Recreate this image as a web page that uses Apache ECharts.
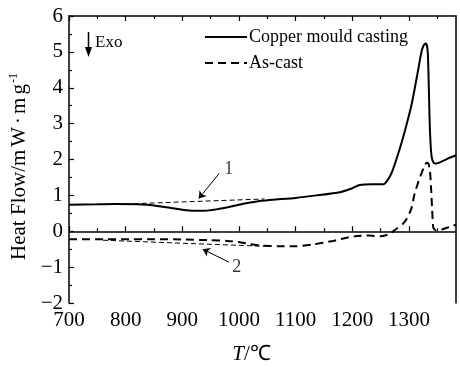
<!DOCTYPE html>
<html>
<head>
<meta charset="utf-8">
<script src="https://cdn.jsdelivr.net/npm/echarts@6/dist/echarts.min.js"></script>
<style>html,body{margin:0;padding:0;background:#fff}#c{width:460px;height:367px}</style>
</head>
<body>
<div id="c"></div>
<script>
var xMajor = [700, 800, 900, 1000, 1100, 1200, 1300];
var xMinor = [750, 850, 950, 1050, 1150, 1250, 1350];
var copperT = [700,750,780,820,850,880,900,920,940,960,980,1000,1020,1040,1060,1100,1137,1178,1200,1213,1235,1255,1262,1269,1281,1293,1305,1315,1322,1325,1328,1330,1332,1333.5,1335,1337,1340,1344,1348,1360,1375,1383];
var copperV = [0.74,0.75,0.76,0.75,0.72,0.65,0.60,0.57,0.57,0.61,0.67,0.74,0.80,0.85,0.88,0.93,1.0,1.09,1.2,1.29,1.31,1.31,1.42,1.61,2.16,2.81,3.56,4.39,5.0,5.15,5.22,5.23,5.15,4.9,4.02,2.81,2.07,1.9,1.89,1.96,2.07,2.12];
var asCastT = [700,750,800,850,900,950,980,1000,1020,1040,1070,1100,1130,1166,1190,1208,1230,1249,1265,1278,1290,1296,1304,1310,1316,1322,1327,1331,1334,1337,1339,1341,1343,1348,1358,1375,1383];
var asCastV = [-0.22,-0.22,-0.22,-0.22,-0.23,-0.25,-0.27,-0.3,-0.36,-0.4,-0.42,-0.42,-0.37,-0.27,-0.18,-0.13,-0.12,-0.14,-0.08,0.07,0.22,0.35,0.62,1.05,1.35,1.61,1.8,1.91,1.9,1.7,1.2,0.58,0.1,0.02,0.05,0.14,0.18];
var base1T = [800, 1045];
var base1V = [0.76, 0.90];
var base2T = [760, 1045];
var base2V = [-0.25, -0.42];
var arrow1 = [[965, 1.61], [929, 0.91]];
var arrow2 = [[982, -0.86], [936, -0.5]];
var labelPts = [[982, 1.72, '1'], [996, -1.0, '2']];

function zip(a, b) { return a.map(function (v, i) { return [v, b[i]]; }); }

var FONT = 'Liberation Serif';
var chart = echarts.init(document.getElementById('c'));
var axisLine = { show: true, lineStyle: { color: '#000', width: 1.5 } };
option = {
  animation: false,
  backgroundColor: '#fff',
  grid: { left: 69, right: 4, top: 16, bottom: 64, containLabel: false, outerBoundsMode: 'none' },
  legend: {
    data: ['Copper mould casting', 'As-cast'],
    orient: 'vertical', left: 204, top: 28, padding: 0,
    itemWidth: 42, itemHeight: 14, itemGap: 8,
    itemStyle: { opacity: 0 },
    textStyle: { fontFamily: FONT, fontSize: 18, color: '#000', padding: [0, 0, 0, -3] }
  },
  xAxis: [
    { type: 'value', position: 'bottom', min: 700, max: 1383,
      axisLine: axisLine,
      axisTick: { inside: true, length: 5, customValues: xMajor, lineStyle: { color: '#000', width: 1.2 } },
      axisLabel: { customValues: xMajor, fontFamily: FONT, fontSize: 21, color: '#000', margin: 7,
        formatter: function (v) { return String(v); } },
      splitLine: { show: false },
      name: '{i|T}/℃', nameLocation: 'middle', nameGap: 41,
      nameTextStyle: { fontFamily: FONT, fontSize: 21, color: '#000', padding: [0, 22, 0, 0],
        rich: { i: { fontFamily: FONT, fontSize: 21, fontStyle: 'italic', color: '#000' } } }
    },
    { type: 'value', position: 'bottom', min: 700, max: 1383,
      axisLine: { show: false },
      axisTick: { inside: true, length: 3, customValues: xMinor, lineStyle: { color: '#000', width: 1.2 } },
      axisLabel: { show: false }, splitLine: { show: false } },
    { type: 'value', position: 'top', min: 700, max: 1383,
      axisLine: axisLine,
      axisTick: { inside: true, length: 5, customValues: xMajor, lineStyle: { color: '#000', width: 1.2 } },
      axisLabel: { show: false }, splitLine: { show: false } },
    { type: 'value', position: 'top', min: 700, max: 1383,
      axisLine: { show: false },
      axisTick: { inside: true, length: 3, customValues: xMinor, lineStyle: { color: '#000', width: 1.2 } },
      axisLabel: { show: false }, splitLine: { show: false } }
  ],
  yAxis: [
    { type: 'value', position: 'left', min: -2, max: 6, interval: 1,
      axisLine: axisLine,
      axisTick: { inside: true, length: 5, lineStyle: { color: '#000', width: 1.2 } },
      minorTick: { show: true, splitNumber: 2, length: 3, lineStyle: { color: '#000', width: 1.2 } },
      axisLabel: { fontFamily: FONT, fontSize: 21, color: '#000', margin: 6,
        formatter: function (v) { return v < 0 ? '\u2212' + (-v) : String(v); } },
      splitLine: { show: false },
      name: '{a|Heat Flow/}{b|m}{b|W}{b|·}{b|m}{a|g}{s|-1}', nameLocation: 'middle', nameGap: 32,
      nameTextStyle: { fontFamily: FONT, fontSize: 21, color: '#000', padding: [0, 14, 0, 0],
        rich: { a: { fontFamily: FONT, fontSize: 21, color: '#000' },
                b: { fontFamily: FONT, fontSize: 21, color: '#000', padding: [0, 3, 0, 0] },
                s: { fontFamily: FONT, fontSize: 12, color: '#000', verticalAlign: 'top', padding: [0, 0, 10, 1] } } }
    },
    { type: 'value', position: 'right', min: -2, max: 6, interval: 1,
      axisLine: axisLine, axisTick: { show: false }, axisLabel: { show: false }, splitLine: { show: false } }
  ],
  series: [
    { name: 'Copper mould casting', type: 'line', data: zip(copperT, copperV), showSymbol: false, symbol: 'none',
      smooth: 0.2, lineStyle: { color: '#000', width: 2 }, itemStyle: { color: '#000' } },
    { name: 'As-cast', type: 'line', data: zip(asCastT, asCastV), showSymbol: false, symbol: 'none',
      smooth: 0.2, lineStyle: { color: '#000', width: 2, type: [8, 5] }, itemStyle: { color: '#000' } },
    { name: 'base1', type: 'line', data: zip(base1T, base1V), symbol: 'none',
      lineStyle: { color: '#000', width: 1, type: [5, 3] } },
    { name: 'base2', type: 'line', data: zip(base2T, base2V), symbol: 'none',
      lineStyle: { color: '#000', width: 1, type: [5, 3] },
      markLine: {
        silent: true, symbol: ['none', 'arrow'], symbolSize: 7,
        label: { show: false },
        lineStyle: { color: '#000', width: 1, type: 'solid' },
        data: [
          [{ coord: arrow1[0] }, { coord: arrow1[1] }],
          [{ coord: arrow2[0] }, { coord: arrow2[1] }]
        ]
      } },
    { name: 'labels', type: 'scatter', data: labelPts.map(function (p) { return [p[0], p[1], p[2]]; }),
      symbolSize: 1, itemStyle: { color: 'rgba(0,0,0,0)' },
      label: { show: true, position: 'inside', fontFamily: FONT, fontSize: 18, color: '#000',
        formatter: function (p) { return p.data[2]; } } }
  ],
  graphic: [
    { type: 'line', shape: { x1: 88.5, y1: 32, x2: 88.5, y2: 50 }, style: { stroke: '#000', lineWidth: 1.5 } },
    { type: 'polygon', shape: { points: [[85, 47], [92, 47], [88.5, 57]] }, style: { fill: '#000' } },
    { type: 'text', x: 95, y: 43, style: { text: 'Exo', font: '17px "Liberation Serif"', fill: '#000', verticalAlign: 'middle' } }
  ]
};
chart.setOption(option);
</script>
</body>
</html>
